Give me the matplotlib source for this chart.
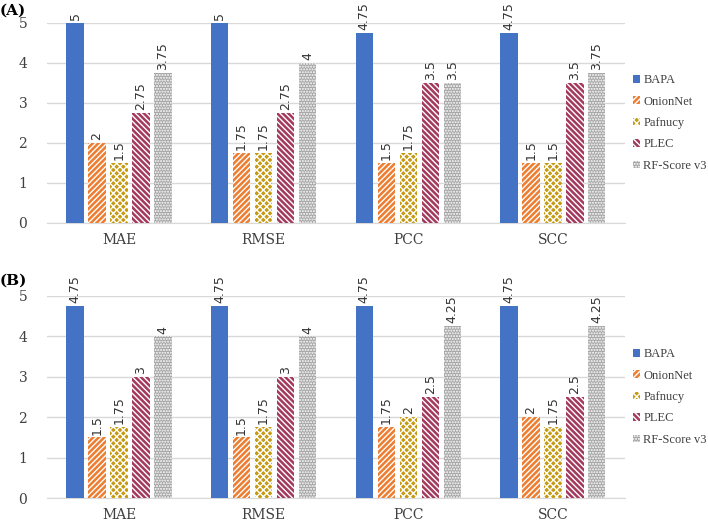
import matplotlib.pyplot as plt
import numpy as np

metrics = ["MAE", "RMSE", "PCC", "SCC"]
methods = ["BAPA", "OnionNet", "Pafnucy", "PLEC", "RF-Score v3"]

# panel (A)
scores_a = {
    "BAPA": [5, 5, 4.75, 4.75],
    "OnionNet": [2, 1.75, 1.5, 1.5],
    "Pafnucy": [1.5, 1.75, 1.75, 1.5],
    "PLEC": [2.75, 2.75, 3.5, 3.5],
    "RF-Score v3": [3.75, 4, 3.5, 3.75],
}
# panel (B)
scores_b = {
    "BAPA": [4.75, 4.75, 4.75, 4.75],
    "OnionNet": [1.5, 1.5, 1.75, 2],
    "Pafnucy": [1.75, 1.75, 2, 1.75],
    "PLEC": [3, 3, 2.5, 2.5],
    "RF-Score v3": [4, 4, 4.25, 4.25],
}
panel_labels = ["(A)", "(B)"]

colors = ["#4472C4", "#ED7D31", "#C59A12", "#A33A5E", "#A5A5A5"]
hatches = [None, "//////", "xxxxx", "\\\\\\\\\\\\", "......"]

plt.rcParams["hatch.linewidth"] = 1.0
serif = "DejaVu Serif"

fig = plt.figure(figsize=(7.08, 5.21), dpi=100)
axes = [fig.add_axes([0.066, 0.572, 0.817, 0.384]),
        fig.add_axes([0.066, 0.044, 0.817, 0.388])]
label_y = [0.98, 0.462]

x = np.arange(len(metrics))
step = 0.152
width = 0.12

for ax, scores, plab, ly in zip(axes, [scores_a, scores_b], panel_labels, label_y):
    for i, m in enumerate(methods):
        pos = x + (i - 2) * step
        vals = scores[m]
        if hatches[i] is None:
            bars = ax.bar(pos, vals, width, color=colors[i], label=m, zorder=3)
        else:
            bars = ax.bar(pos, vals, width, facecolor=colors[i], edgecolor="white",
                          hatch=hatches[i], linewidth=0, label=m, zorder=3)
        for b, v in zip(bars, vals):
            ax.text(b.get_x() + b.get_width() / 2, v + 0.07, f"{v:g}",
                    rotation=90, ha="center", va="bottom", fontsize=9,
                    color="#333333")
    ax.set_xlim(-0.5, 3.5)
    ax.set_ylim(0, 5)
    ax.set_yticks(range(6))
    ax.set_xticks(x)
    ax.set_xticklabels(metrics, fontsize=10, family=serif)
    for t in ax.get_yticklabels():
        t.set_family(serif)
        t.set_fontsize(10)
    ax.tick_params(length=0, pad=14, axis="y", colors="#404040")
    ax.tick_params(length=0, pad=7, axis="x", colors="#404040")
    ax.grid(axis="y", color="#D9D9D9", linewidth=1, zorder=0)
    for s in ["top", "right", "left"]:
        ax.spines[s].set_visible(False)
    ax.spines["bottom"].set_color("#D9D9D9")
    leg = ax.legend(loc="center left", bbox_to_anchor=(1.0, 0.5), frameon=False,
                    prop={"family": "Liberation Serif", "size": 9},
                    handlelength=0.55, handleheight=0.55, handletextpad=0.3,
                    labelspacing=0.75, borderaxespad=0.2)
    for t in leg.get_texts():
        t.set_color("#404040")
    fig.text(0.0, ly, plab, fontsize=11, fontweight="bold", family=serif,
             ha="left", va="center")

fig.savefig("out.png", dpi=100)
